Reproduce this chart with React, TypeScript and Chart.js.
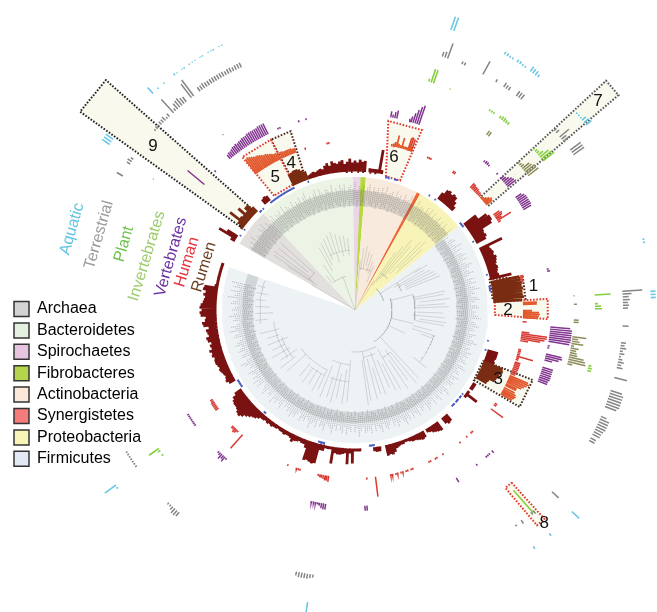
import React, { useEffect, useRef } from "react";
import { Chart, registerables } from "chart.js";

Chart.register(...registerables);

type Cluster = [number, number[]];

const CX = 355;
const CY = 310;

const cladeNames = ["Archaea", "Bacteroidetes", "Spirochaetes", "Fibrobacteres", "Actinobacteria", "Synergistetes", "Proteobacteria", "Firmicutes"];
const legendColors = ["#d3d3d3", "#e4f1e0", "#e7c4e0", "#b4d44c", "#fbe8d8", "#f47c7c", "#f8f4b8", "#e3e9f3"];
const sectorColors = ["#e2dfdd", "#ecf4e6", "#ecd5e9", "#b7d83f", "#f8eadc", "#ee6538", "#f8f3b6", "#edf2f5"];
const sectorStart = [299.9, 316.5, 359, 362.4, 364.7, 387.8, 389.3, 411];
const sectorEnd = [316.5, 359, 362.4, 364.7, 387.8, 389.3, 411, 648.7];

const trackNames = ["Aquatic", "Terrestrial", "Plant", "Invertebrates", "Vertebrates", "Human", "Rumen"];
const trackLabelColors = ["#62c3e2", "#9a9a9a", "#6cc24a", "#9ccb6a", "#6a2ea0", "#e8323c", "#6b3e1e"];
const trackLabelX = [72, 99, 124, 147, 171, 187, 204];
const trackLabelY = [229, 235, 244, 256, 257, 262, 267];
const trackLabelTilt = [-74, -74, -74, -73, -74, -73, -73];

const rumenClusters: Cluster[] = [
  [0, [11, 9, 12, 10, 11]],
  [6, [4, 4, 4, 4, 24, 4]],
  [37, [8, 13, 14, 12, 14, 13, 9, 5]],
  [52, [15, 15]],
  [54, [24, 26, 26, 24]],
  [58, [13, 12, 13, 11]],
  [64, [25]],
  [65, [10, 11, 12, 11, 13, 12, 11, 10, 11, 10, 9, 10]],
  [77, [22]],
  [107, [11, 11, 11, 10, 11]],
  [122, [4, 4, 4]],
  [126, [3, 14, 3]],
  [139, [8, 9, 7]],
  [144, [10, 9, 8, 7, 5, 4]],
  [151, [7, 8, 7, 6, 5, 5, 4, 3, 3, 4, 4, 5, 6, 9, 11, 10, 11]],
  [170, [5, 5, 4]],
  [178, [3, 3, 3]],
  [181, [15, 5, 16, 5, 6, 7, 7, 6, 17, 3, 3, 3]],
  [193, [6, 6, 20, 21, 20, 19, 20, 8]],
  [201, [5, 5, 4, 5, 6, 8, 5, 4, 4, 5, 4, 4, 3, 4, 4, 5, 4, 5, 4, 5, 5, 7, 9, 10]],
  [225, [12, 14, 17, 19, 18, 16, 15, 15, 14, 12, 8]],
  [240, [7, 9, 8, 7, 8, 9, 10, 9, 10, 11, 11, 10, 12, 11, 13, 10, 11, 9, 12, 13, 10, 11, 12, 9, 14, 15, 12, 11, 16, 17, 15, 17, 16, 14, 13, 12, 14, 12]],
  [278, [15, 14]],
  [280, [4, 3, 3, 3, 3, 3, 3, 3, 3, 3]],
  [300, [5, 20, 12]],
  [320, [6, 7, 6]],
  [341, [4, 5, 6, 5, 6, 7, 6]],
  [348, [9, 11, 8, 12, 10, 9, 11, 12, 8, 10, 13, 9]],
];
const rumenBoxed: Cluster[] = [
  [78.5, [29, 30, 31, 30, 31, 30, 30, 31, 29]],
  [112, [21, 22, 20, 21, 19, 18, 13, 12]],
  [306, [3, 8, 20, 9, 8, 16, 8, 12, 12, 7]],
  [334, [12, 13, 14, 14, 13, 11, 9]],
];
const humanClusters: Cluster[] = [
  [18.3, [13, 14, 13]],
  [25.5, [2, 2, 2]],
  [35.5, [3, 3]],
  [343, [2]],
  [350.5, [2, 2]],
  [43.3, [6, 6, 5, 5, 5, 4, 4, 3]],
  [55.5, [7, 9, 8, 6, 16, 3]],
  [78.4, [4, 3, 3, 3]],
  [94, [4]],
  [97.5, [8, 26, 26, 24, 20, 8]],
  [103.5, [3, 3, 3, 3, 17, 3, 3]],
  [108, [6, 6, 6, 6, 6, 6, 5, 5]],
  [123.7, [3, 3]],
  [126, [15]],
  [136, [2, 2]],
  [138.6, [2]],
  [141.6, [2]],
  [148.6, [2]],
  [151, [2, 2, 0, 0, 2, 2]],
  [160, [2, 2, 0, 2, 2, 0, 2, 2, 0, 2, 2, 0, 2, 2]],
  [173, [20]],
  [176, [2]],
  [189, [6, 5, 5, 4, 3, 3, 2]],
  [199, [2, 2, 2]],
  [203.4, [2]],
  [222, [18]],
  [224, [2, 4, 5, 3, 3]],
  [234.3, [4, 4, 4, 4, 4, 3, 3]],
];
const humanBoxed: Cluster[] = [
  [12.5, [2, 3, 5, 12, 4, 3, 11, 3, 3, 3, 14, 5]],
  [324, [18, 19, 18, 17, 16, 15, 15, 14, 13, 12, 12, 11, 10, 9, 8, 8, 7]],
  [334.5, [7, 7, 6, 6, 6, 6, 6, 5, 5]],
  [48.2, [2, 3, 5, 7, 9, 8]],
  [87.5, [14, 14]],
  [90.2, [9, 16, 17, 16, 15]],
  [113, [20, 22, 20, 18, 16, 12, 12]],
  [117.5, [12, 14, 15, 14, 13]],
];
const vertebrateClusters: Cluster[] = [
  [10.5, [6, 3, 6, 8]],
  [16, [3, 6, 10, 14, 18, 20]],
  [41, [2, 3, 3, 2]],
  [320.5, [5, 6, 6, 7, 8, 8, 9, 8, 9, 9, 10, 10, 10, 11, 11, 11, 11, 11, 11, 12, 12, 12, 12]],
  [337, [2, 2]],
  [343.4, [2]],
  [345.6, [2]],
  [314.8, [2]],
  [309.8, [22]],
  [46.2, [2]],
  [48, [3, 5, 7, 9, 10, 11]],
  [55, [7, 9, 10, 10, 10, 10, 10, 9]],
  [78, [2, 3]],
  [95, [20, 22, 22, 22, 22, 22, 22, 21]],
  [100.5, [2, 2]],
  [103, [16, 17, 14, 8]],
  [107, [11, 11, 11, 11, 11, 11, 10, 10]],
  [135.8, [3, 0, 2, 2, 2]],
  [141.8, [2]],
  [148.9, [5]],
  [176.5, [5, 5]],
  [188.6, [6, 6, 5, 3, 2, 2, 1, 2]],
  [220.9, [2, 6, 4, 6, 3, 2]],
  [234.3, [2, 2, 2, 2, 2, 2, 2]],
];
const invertebrateClusters: Cluster[] = [
  [36.9, [5, 5]],
  [48, [2, 3, 4, 9, 10, 12, 12, 13]],
  [86.3, [1]],
  [88.5, [3]],
  [92.6, [5, 5]],
  [97, [14, 6, 8, 12, 3, 8, 6, 7, 8, 15, 17, 18, 5]],
  [323, [1]],
];
const plantClusters: Cluster[] = [
  [17.9, [3, 14, 14]],
  [23.3, [1]],
  [34, [2, 2, 2]],
  [37, [3, 4, 4, 3, 3]],
  [48, [2, 3, 3, 6, 11, 13, 14]],
  [86.4, [16]],
  [88.5, [3, 6, 7]],
  [103.4, [3, 4, 4]],
  [138.7, [30]],
  [233, [2, 0, 3, 12]],
  [303, [1]],
];
const terrestrialClusters: Cluster[] = [
  [19, [5, 6, 16]],
  [23.5, [3, 3]],
  [28.5, [15]],
  [31.7, [3]],
  [33.7, [5, 4, 4]],
  [37, [6, 6, 6]],
  [48, [3, 4, 0, 12, 6, 8]],
  [53.4, [13, 13, 13]],
  [86, [20, 9, 6, 7, 5, 6, 5]],
  [93.4, [6]],
  [97, [5, 4, 6, 3, 5, 2, 4, 6, 4, 6]],
  [104.6, [13]],
  [107.5, [12, 14, 14, 14, 14, 14, 12]],
  [113.4, [6, 10, 10, 10, 10, 9, 8, 8]],
  [118.5, [6, 6]],
  [132.7, [9]],
  [138.4, [4, 3]],
  [141.7, [4]],
  [143.2, [2]],
  [189, [3, 4, 5, 5, 5, 5, 4]],
  [221, [5, 6, 6, 4, 1, 1]],
  [234.5, [2, 2, 2, 2, 2, 2, 2]],
  [300, [7]],
  [303, [4, 5, 3]],
  [312, [2, 3, 3, 4, 4, 5, 2, 4, 0, 18, 3, 7, 8, 9, 7, 6]],
  [322.4, [17, 20]],
  [324.7, [5, 5, 6, 5, 5, 5, 5, 5, 5, 5, 5, 4, 5, 5, 4, 5, 5, 5]],
];
const aquaticClusters: Cluster[] = [
  [18.9, [14, 14]],
  [30.3, [3, 3, 2, 2]],
  [33.2, [3, 3, 2, 2]],
  [36.3, [6, 5, 5, 3]],
  [48.3, [1, 1, 1, 5, 6, 7]],
  [76.2, [2, 2]],
  [86.4, [5, 5, 5]],
  [132.9, [10]],
  [139, [3]],
  [143, [3]],
  [189.2, [12]],
  [233.2, [2, 14]],
  [304, [9, 9, 9]],
  [317, [8]],
  [318.5, [1]],
  [320, [1]],
  [322.5, [2, 1, 0, 1, 1, 0, 1, 1, 1, 0, 1, 1, 0, 1, 1, 1, 0, 1, 1]],
];
const blueDashClusters: Cluster[] = [
  [13, [2, 2, 2]],
  [17, [2, 2]],
  [33, [2]],
  [36, [2]],
  [50.5, [2, 2, 2, 2]],
  [60, [2]],
  [75, [2]],
  [80, [2, 2, 2, 2]],
  [103, [2]],
  [107, [2]],
  [128, [2, 0, 2, 2, 0, 2, 2, 2, 0, 2, 2, 2]],
  [172, [2, 2, 2, 2]],
  [193, [2, 2, 2, 2, 2]],
  [221, [2, 2]],
  [236, [2, 2, 2, 2, 2, 2]],
  [303, [2]],
  [306, [2]],
  [316, [2, 2, 0, 2]],
  [322, [2, 2, 2, 2, 2, 2, 2, 2, 2, 2, 2, 2, 2, 2, 2, 2, 2, 2, 2, 2]],
  [340, [2]],
];

const firmicutesTips = [
  18, 14, 20, 22, 16, 19, 24, 17, 21, 15, 20, 23, 18, 22, 16, 19, 25, 21, 17, 20,
  24, 18, 15, 22, 19, 23, 17, 21, 26, 18, 20, 16, 22, 24, 19, 15, 21, 23, 17, 20,
  18, 22, 25, 16, 19, 21, 24, 18, 20, 15, 23, 19, 17, 22, 26, 20, 16, 21, 18, 24,
  19, 22, 17, 20, 23, 15, 21, 25, 18, 19, 22, 16, 24, 20, 17, 23, 21, 18, 15, 22,
  26, 19, 20, 17, 24, 21, 16, 23, 18, 20, 22, 25, 17, 19, 21, 15, 24, 20, 18, 23,
  16, 22, 19, 26, 21, 17, 20, 24, 18, 22, 15, 19, 23, 21, 17, 25, 20, 18, 22, 16,
  24, 19, 21, 23, 17, 20, 26, 18, 22, 15, 21, 19, 24, 17, 23, 20, 16, 22, 18, 25,
  21, 19, 17, 24, 20, 22, 15, 23, 18, 21, 26, 19, 17, 22, 20, 24, 16, 18, 23, 21,
  25, 19, 22, 17, 20, 15, 24, 21, 18, 23, 19, 26, 16, 22, 20, 17, 24, 21, 18, 15,
  23, 20, 25, 19, 22, 17, 21, 24, 16, 20, 18, 23, 26, 19, 15, 22, 21, 17, 24, 20,
  18, 25, 22, 19, 16, 23, 21, 17, 26, 20, 24, 18, 15, 22, 19, 25, 21, 17, 23, 20,
  16, 24, 22, 18, 27, 21, 19, 25, 17, 23, 20, 26,
];
const upperTips = [
  20, 16, 22, 18, 24, 15, 21, 19, 17, 23, 20, 25, 16, 22, 18, 15, 20, 24, 17, 21,
  19, 23, 16, 25, 18, 22, 20, 15, 24, 17, 21, 19, 23, 16, 22, 25, 18, 20, 15, 21,
  24, 17, 23, 19, 16, 22, 20, 18, 25, 15, 21, 17, 23, 19, 24, 16, 20, 22, 18, 25,
  15, 21, 19, 23, 17, 20, 24, 16, 22, 18, 21, 15, 23, 19, 25, 17, 20, 22, 16, 24,
  18, 21, 15, 23, 19, 20, 25, 17, 22, 16, 24, 18, 21, 20, 15, 23, 19, 25, 17, 22,
  16, 20, 24, 18, 21, 15, 23, 19, 17, 22,
];
const tipInsets = [2, 6, 0, 4, 7, 1, 5, 3, 8, 0, 6, 2, 5, 1, 7, 4, 3];

const treeArcs: [number, number, number][] = [
  [45, 72, 30], [72, 150, 37], [150, 185, 42], [185, 205, 55], [205, 235, 66], [235, 262, 82], [262, 288, 95],
  [75, 100, 60], [57, 68, 50], [108, 129, 83], [140, 150, 55], [155, 170, 48], [185, 200, 72], [205, 218, 72], [232, 250, 78],
  [322, 345, 35], [335, 355, 60], [303, 313, 55], [6, 22, 42], [35, 46, 45],
];
const treeSpokes: [number, number, number][] = [
  [57, 30, 45], [57, 45, 78], [60, 45, 80], [62, 50, 85], [64, 55, 88], [66, 55, 90], [68, 55, 92], [58, 70, 85],
  [75, 37, 60], [78, 60, 92], [80, 60, 90], [83, 65, 95], [86, 62, 90], [88, 60, 94], [92, 62, 88], [95, 58, 90], [98, 65, 92], [100, 62, 90],
  [103, 37, 60], [105, 60, 80], [108, 60, 85], [110, 70, 82], [129, 75, 92], [115, 37, 55],
  [137, 37, 93], [140, 55, 95], [143, 50, 88], [146, 60, 95], [150, 45, 92], [153, 60, 90], [156, 55, 85], [160, 45, 90], [163, 60, 88], [166, 50, 92], [170, 42, 92], [172, 50, 96],
  [185, 50, 92], [188, 60, 95], [192, 65, 90], [195, 55, 96], [198, 70, 92], [202, 60, 94], [205, 66, 88], [208, 72, 92], [212, 70, 88], [216, 72, 90], [220, 70, 86],
  [228, 66, 92], [232, 75, 95], [236, 70, 90], [240, 75, 96], [244, 78, 92], [248, 72, 94], [252, 80, 92], [256, 78, 98],
  [264, 88, 100], [268, 82, 100], [272, 85, 100], [276, 90, 100], [280, 88, 100], [284, 92, 100],
  [340, 0, 35], [325, 35, 55], [330, 45, 72], [333, 50, 75], [336, 55, 78], [339, 60, 80], [342, 50, 82], [345, 60, 78], [348, 55, 76], [351, 60, 75], [354, 55, 72], [320, 35, 45],
  [300, 0, 50], [304, 50, 98], [306, 55, 100], [309, 60, 98], [312, 55, 100], [303, 45, 80],
  [6, 0, 50], [8, 40, 62], [11, 42, 65], [14, 45, 60], [17, 40, 58], [20, 38, 52], [23, 30, 48],
  [33, 0, 35], [35, 30, 70], [37, 35, 80], [39, 40, 90], [41, 45, 85], [44, 50, 95], [46, 60, 98], [48, 55, 90],
];

// a0 inner, a1 inner, a0 outer, a1 outer, r inner, r outer
const boxNames = ["1", "2", "3", "4", "5", "6", "7", "8", "9"];
const boxAngles = [
  [77, 85, 79, 87], [86.7, 92, 86.7, 92.7], [111.5, 120.5, 111.5, 120.5], [334.4, 339.4, 333.7, 340.2], [324.7, 334, 323.6, 333.7],
  [13, 19.2, 10, 20.4], [48, 52, 47.6, 50.8], [137.8, 139.8, 137.8, 139.8], [306, 314.5, 305.8, 312.7],
];
const boxRadii = [[138, 171], [140, 193], [138, 191], [140, 190], [140, 190], [137, 192], [170, 340], [233, 282], [142, 339]];
const boxLineColors = ["#5a1a10", "#e0382a", "#3a2a20", "#4a2018", "#e0382a", "#e0382a", "#555555", "#e0382a", "#222222"];
const boxNumberAngle = [82.3, 90, 115.8, 336.5, 329, 14.3, 49.4, 138.4, 309];
const boxNumberRadius = [180, 153, 159, 160, 155, 158, 320, 285, 260];

const polar = (a: number, r: number) => {
  const t = (a * Math.PI) / 180;
  return { x: CX + r * Math.sin(t), y: CY - r * Math.cos(t) };
};
const GAP = { x: NaN, y: NaN };

const arcPoints = (a0: number, a1: number, r: number) => {
  const n = Math.max(2, Math.ceil(Math.abs(a1 - a0)));
  const out: { x: number; y: number }[] = [];
  for (let i = 0; i <= n; i++) out.push(polar(a0 + ((a1 - a0) * i) / n, r));
  return out;
};

const barPoints = (clusters: Cluster[], base: number, step: number) => {
  const out: { x: number; y: number }[] = [];
  clusters.forEach(([start, values]) =>
    values.forEach((v, i) => {
      if (v > 0) out.push(polar(start + i * step, base), polar(start + i * step, base + v), GAP);
    })
  );
  return out;
};

const barSet = (clusters: Cluster[], base: number, step: number, color: string, width: number) => ({
  showLine: true,
  data: barPoints(clusters, base, step),
  borderColor: color,
  borderWidth: width,
  pointRadius: 0,
  spanGaps: false,
  fill: false,
});

const shapeSet = (points: { x: number; y: number }[], color: string) => ({
  showLine: true,
  data: points,
  backgroundColor: color,
  borderColor: color,
  borderWidth: 0,
  pointRadius: 0,
  fill: "shape",
});

const buildDatasets = () => {
  const sets: any[] = [];
  cladeNames.forEach((_, i) => {
    sets.push(shapeSet([{ x: CX, y: CY }, ...arcPoints(sectorStart[i], sectorEnd[i], 133), { x: CX, y: CY }], sectorColors[i]));
  });
  const band = (a0: number, a1: number, r0: number, r1: number) =>
    shapeSet([...arcPoints(a0, a1, r0), ...arcPoints(a1, a0, r1)], "rgba(110,112,114,0.22)");
  sets.push(band(51, 288.7, 102, 113));
  sets.push(band(299.9, 411, 104, 120));

  const tipPts: { x: number; y: number }[] = [];
  firmicutesTips.forEach((len, i) => tipPts.push(polar(52 + i, 101 + tipInsets[i % 17]), polar(52 + i, 101 + len), GAP));
  upperTips.forEach((len, i) => tipPts.push(polar(301 + i, 103 + tipInsets[i % 17]), polar(301 + i, 103 + len), GAP));
  sets.push({ showLine: true, data: tipPts, borderColor: "rgba(85,85,85,0.45)", borderWidth: 0.8, borderDash: [1.2, 0.8], pointRadius: 0, spanGaps: false, fill: false });

  const treePts: { x: number; y: number }[] = [];
  treeArcs.forEach(([a0, a1, r]) => treePts.push(...arcPoints(a0, a1, r), GAP));
  treeSpokes.forEach(([a, r0, r1]) => treePts.push(polar(a, r0), polar(a, r1), GAP));
  sets.push({ showLine: true, data: treePts, borderColor: "rgba(120,120,120,0.5)", borderWidth: 0.5, pointRadius: 0, spanGaps: false, fill: false });

  boxNames.forEach((_, i) => {
    const [a, b, c, d] = boxAngles[i];
    const [r0, r1] = boxRadii[i];
    const p0 = polar(a, r0);
    sets.push({
      showLine: true,
      data: [p0, polar(c, r1), polar(d, r1), polar(b, r0), p0],
      backgroundColor: "#f9f9ee",
      borderColor: boxLineColors[i],
      borderWidth: 2,
      borderDash: [1.6, 1.6],
      pointRadius: 0,
      fill: "shape",
    });
  });

  sets.push(barSet(blueDashClusters, 135.5, 0.6, "#4a5fc1", 1.6));
  sets.push(barSet(rumenClusters, 138.5, 1, "#7a1212", 2.8));
  sets.push(barSet(rumenBoxed, 138.5, 1, "#7a2c12", 2.8));
  sets.push(barSet(humanClusters, 168, 0.6, "#d93a32", 1.5));
  sets.push(barSet(humanBoxed, 168, 0.6, "#e2572c", 1.7));
  sets.push(barSet(vertebrateClusters, 196, 0.6, "#82358f", 1.5));
  sets.push(barSet(invertebrateClusters, 219, 0.6, "#8d8e5c", 1.5));
  sets.push(barSet(plantClusters, 240, 0.6, "#85cf3f", 1.6));
  sets.push(barSet(terrestrialClusters, 268, 0.6, "#858585", 1.5));
  sets.push(barSet(aquaticClusters, 296, 0.6, "#6cc7e4", 1.6));
  return sets.reverse();
};

const textPlugin = {
  id: "figureText",
  afterLayout(chart: any) {
    chart.legend.left = 8.6;
    chart.legend.top = 295.6;
  },
  afterDatasetsDraw(chart: any) {
    const { ctx, scales } = chart;
    ctx.save();
    ctx.textAlign = "center";
    ctx.textBaseline = "middle";
    ctx.font = '16px "Liberation Sans"';
    trackNames.forEach((name, i) => {
      ctx.save();
      ctx.translate(scales.x.getPixelForValue(trackLabelX[i]), scales.y.getPixelForValue(trackLabelY[i]));
      ctx.rotate((trackLabelTilt[i] * Math.PI) / 180);
      ctx.fillStyle = trackLabelColors[i];
      ctx.fillText(name, 0, 0);
      ctx.restore();
    });
    ctx.fillStyle = "#111111";
    ctx.font = '17px "Liberation Sans"';
    boxNames.forEach((name, i) => {
      const p = polar(boxNumberAngle[i], boxNumberRadius[i]);
      ctx.fillText(name, scales.x.getPixelForValue(p.x), scales.y.getPixelForValue(p.y));
    });
    ctx.restore();
  },
};

export default function App() {
  const ref = useRef<HTMLCanvasElement>(null);
  useEffect(() => {
    const chart = new Chart(ref.current as HTMLCanvasElement, {
      type: "scatter",
      data: { datasets: buildDatasets() },
      plugins: [textPlugin],
      options: {
        responsive: false,
        animation: false,
        events: [],
        layout: { padding: 0 },
        scales: {
          x: { type: "linear", min: 0, max: 657, display: false },
          y: { type: "linear", min: 0, max: 612, reverse: true, display: false },
        },
        plugins: {
          tooltip: { enabled: false },
          legend: {
            display: true,
            position: "chartArea",
            align: "start",
            labels: {
              boxWidth: 15,
              boxHeight: 15,
              padding: 5.4,
              color: "#222222",
              font: { family: "Liberation Sans", size: 16 },
              generateLabels: () =>
                cladeNames.map((text, i) => ({
                  text,
                  fillStyle: legendColors[i],
                  strokeStyle: "#333333",
                  lineWidth: 1.5,
                  hidden: false,
                  datasetIndex: i,
                })),
            },
          },
        },
      },
    } as any);
    return () => chart.destroy();
  }, []);
  return (
    <div style={{ position: "absolute", left: 0, top: 0, width: 657, height: 612 }}>
      <canvas ref={ref} width={657} height={612} style={{ display: "block" }} />
    </div>
  );
}
